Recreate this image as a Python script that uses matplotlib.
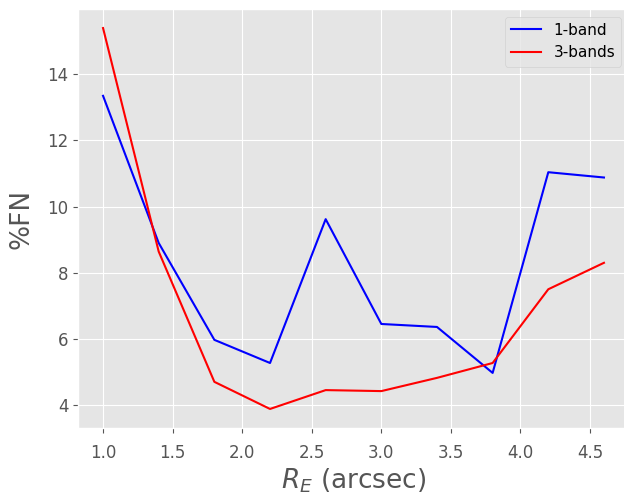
import matplotlib
matplotlib.use('Agg')
import matplotlib.pyplot as plt

plt.style.use('ggplot')

r_e = [1.0, 1.4, 1.8, 2.2, 2.6, 3.0, 3.4, 3.8, 4.2, 4.6]
fn_1band = [13.35, 8.9, 5.97, 5.27, 9.62, 6.45, 6.36, 4.97, 11.04, 10.88]
fn_3bands = [15.4, 8.64, 4.7, 3.88, 4.45, 4.42, 4.82, 5.27, 7.5, 8.3]

fig = plt.figure(figsize=(6.24, 4.94), dpi=100)
ax = fig.add_axes([78 / 624, 66 / 494, 551 / 624, 419 / 494])

ax.plot(r_e, fn_1band, color='blue', linewidth=1.5, label='1-band')
ax.plot(r_e, fn_3bands, color='red', linewidth=1.5, label='3-bands')

ax.tick_params(axis='both', labelsize=12)
ax.tick_params(axis='x', pad=8)
ax.set_xlabel(r'$R_E$ (arcsec)', fontsize=19, labelpad=3)
ax.set_ylabel('%FN', fontsize=19, labelpad=9)
ax.legend(loc='upper right', fontsize=11)

fig.savefig('out.png', dpi=100)
